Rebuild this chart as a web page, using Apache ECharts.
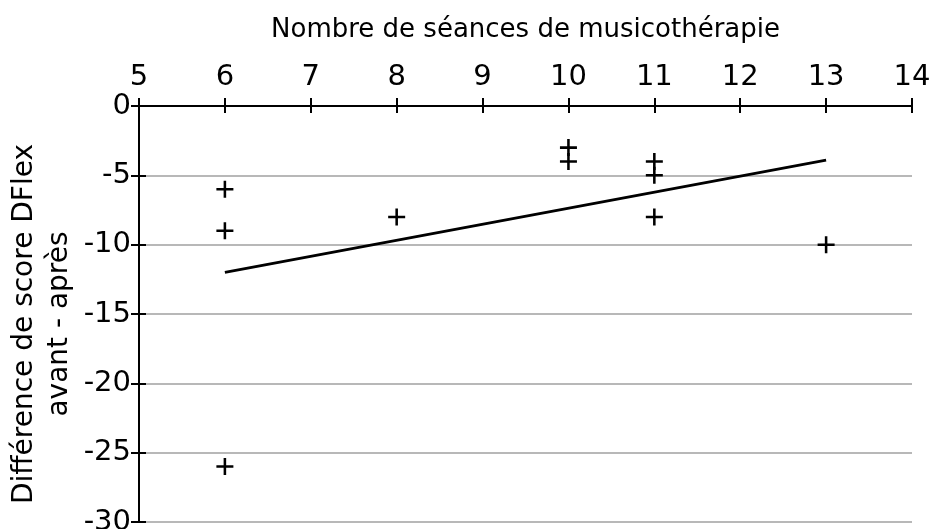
<!DOCTYPE html>
<html>
<head>
<meta charset="utf-8">
<script src="https://cdn.jsdelivr.net/npm/echarts@6/dist/echarts.min.js"></script>
<style>
  html, body { margin: 0; padding: 0; background: #fff; }
  #main { width: 930px; height: 529px; }
</style>
</head>
<body>
<div id="main"></div>
<script>
// données
var seances = [6, 6, 6, 8, 10, 10, 11, 11, 11, 13];
var diffScore = [-6, -9, -26, -8, -3, -4, -4, -5, -8, -10];
// droite de tendance (extrémités)
var tendanceX = [6, 13];
var tendanceY = [-12, -3.9];

var xTicks = [5, 6, 7, 8, 9, 10, 11, 12, 13, 14];
var yTicks = [0, -5, -10, -15, -20, -25, -30];

var points = seances.map(function (x, i) { return [x, diffScore[i]]; });
var tendance = tendanceX.map(function (x, i) { return [x, tendanceY[i]]; });

var police = 'DejaVu Sans';
var plus = 'path://M6.8,0H9.2V6.8H16V9.2H9.2V16H6.8V9.2H0V6.8H6.8Z';

var myChart = echarts.init(document.getElementById('main'));

var option = {
    backgroundColor: '#fff',
    animation: false,
    grid: { left: 139, right: 18, top: 106, bottom: 7, outerBoundsMode: 'none', containLabel: false },
    xAxis: [{
        type: 'value',
        position: 'top',
        min: xTicks[0],
        max: xTicks[xTicks.length - 1],
        interval: 1,
        name: 'Nombre de séances de musicothérapie',
        nameLocation: 'middle',
        nameGap: 63,
        nameMoveOverlap: false,
        nameTextStyle: { fontFamily: police, fontSize: 26, color: '#000' },
        axisLine: { onZero: false, lineStyle: { color: '#000', width: 2 } },
        axisTick: { show: true, length: 8, lineStyle: { color: '#000', width: 2 } },
        axisLabel: { fontFamily: police, fontSize: 29, color: '#000', margin: 14 },
        splitLine: { show: false }
    }, {
        // ticks vers l'intérieur
        type: 'value',
        position: 'top',
        min: xTicks[0],
        max: xTicks[xTicks.length - 1],
        interval: 1,
        axisLine: { show: false },
        axisTick: { show: true, inside: true, length: 7, lineStyle: { color: '#000', width: 2 } },
        axisLabel: { show: false },
        splitLine: { show: false }
    }],
    yAxis: [{
        type: 'value',
        min: yTicks[yTicks.length - 1],
        max: yTicks[0],
        interval: 5,
        name: 'Différence de score DFlex\navant - après',
        nameLocation: 'middle',
        nameGap: 62,
        nameMoveOverlap: false,
        nameTextStyle: { fontFamily: police, fontSize: 28, color: '#000', lineHeight: 35, padding: [0, 20, 0, 0] },
        axisLine: { onZero: false, lineStyle: { color: '#000', width: 2 } },
        axisTick: { show: true, length: 8, lineStyle: { color: '#000', width: 2 } },
        axisLabel: { fontFamily: police, fontSize: 29, color: '#000', margin: 8 },
        splitLine: { show: true, lineStyle: { color: '#a0a0a0', width: 1.5 } }
    }, {
        type: 'value',
        min: yTicks[yTicks.length - 1],
        max: yTicks[0],
        interval: 5,
        position: 'left',
        axisLine: { show: false },
        axisTick: { show: true, inside: true, length: 7, lineStyle: { color: '#000', width: 2 } },
        axisLabel: { show: false },
        splitLine: { show: false }
    }],
    series: [{
        type: 'line',
        data: tendance,
        symbol: 'none',
        lineStyle: { color: '#000', width: 2.8 },
        z: 3
    }, {
        type: 'scatter',
        data: points,
        symbol: plus,
        symbolSize: 17,
        itemStyle: { color: '#000', opacity: 1 },
        z: 4
    }]
};

myChart.setOption(option);
</script>
</body>
</html>
